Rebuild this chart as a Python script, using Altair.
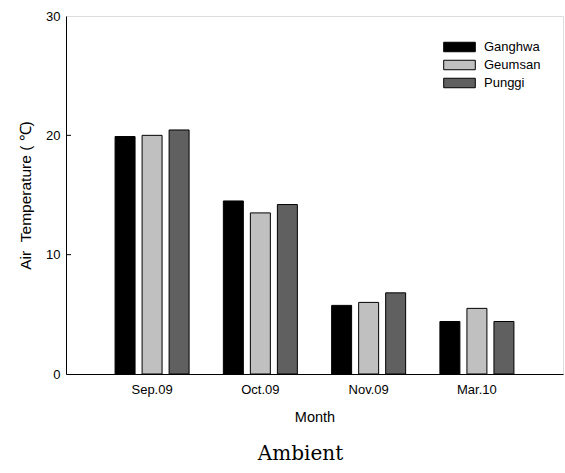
import altair as alt
import pandas as pd

months = ["Sep.09", "Oct.09", "Nov.09", "Mar.10"]
sites = ["Ganghwa", "Geumsan", "Punggi"]
ganghwa = [19.9, 14.5, 5.75, 4.4]
geumsan = [20.0, 13.5, 6.0, 5.5]
punggi = [20.45, 14.2, 6.8, 4.4]
colors = ["#000000", "#c0c0c0", "#606060"]
y_ticks = [10, 20]

rows = []
for site, vals in zip(sites, [ganghwa, geumsan, punggi]):
    for m, v in zip(months, vals):
        rows.append({"Month": m, "Site": site, "Value": v})
df = pd.DataFrame(rows)

FONT = "Liberation Sans"

bars = alt.Chart(df).mark_bar(stroke="black", strokeWidth=1).encode(
    x=alt.X("Month:N", sort=months,
            scale=alt.Scale(paddingInner=0.26, paddingOuter=0.425),
            axis=alt.Axis(title="Month", labelAngle=0, ticks=False, domain=True,
                          domainColor="black", labelFont=FONT, labelFontSize=13,
                          labelColor="black", labelPadding=9,
                          titleFont=FONT, titleFontSize=14.5, titleFontWeight="normal",
                          titleColor="black", titlePadding=14)),
    xOffset=alt.XOffset("Site:N", sort=sites,
                        scale=alt.Scale(paddingInner=0.26, paddingOuter=0.113)),
    y=alt.Y("Value:Q", scale=alt.Scale(domain=[0, 30], nice=False),
            axis=alt.Axis(title="Air\u00a0\u00a0Temperature (\u00a0℃)", values=[0, 10, 20, 30],
                          ticks=False, grid=False, domainColor="black",
                          labelFont=FONT, labelFontSize=13, labelColor="black",
                          labelPadding=6, titleFont=FONT, titleFontSize=15.5,
                          titleFontWeight="normal", titleColor="black",
                          titlePadding=12)),
    color=alt.Color("Site:N", sort=sites,
                    scale=alt.Scale(domain=sites, range=colors),
                    legend=alt.Legend(title=None, orient="none", legendX=377, legendY=23,
                                      symbolType="M-1,-0.3H1V0.3H-1Z", symbolSize=1000,
                                      symbolStrokeColor="black", symbolStrokeWidth=1,
                                      clipHeight=16, rowPadding=2,
                                      labelFont=FONT, labelFontSize=13, labelColor="black",
                                      labelOffset=8)),
)

tick_df = pd.DataFrame({"t": y_ticks})
ticks = alt.Chart(tick_df).mark_rule(color="black", strokeWidth=1).encode(
    y=alt.Y("t:Q"), x=alt.value(0), x2=alt.value(5)
)

chart = alt.layer(bars, ticks).properties(
    width=497, height=358,
    autosize=alt.AutoSizeParams(type="none"),
    padding={"left": 66, "top": 16, "right": 2, "bottom": 99},
    title=alt.TitleParams("Ambient", orient="bottom", font="DejaVu Serif",
                          fontSize=20, fontWeight="normal", color="black", offset=20,
                          dx=-14),
).configure_view(stroke="black", strokeWidth=1).configure(background="white")

chart.save("out.html", embed_options={"renderer": "svg", "actions": False})
